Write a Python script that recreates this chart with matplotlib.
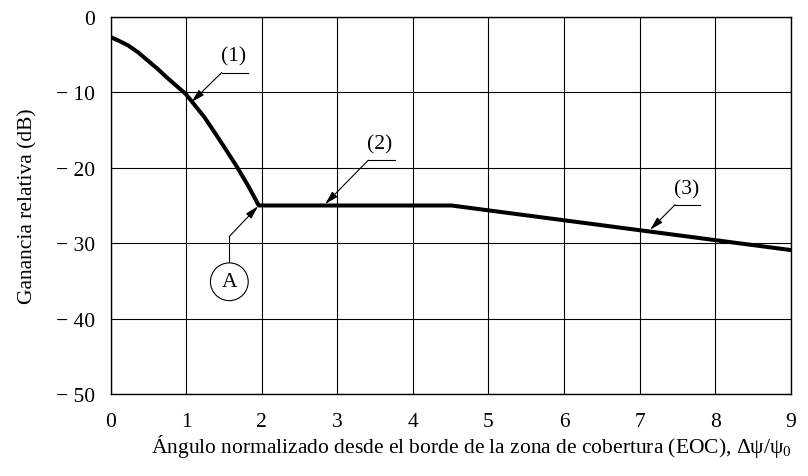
import matplotlib.pyplot as plt
from matplotlib.patches import Ellipse

plt.rcParams['font.family'] = ['Liberation Serif', 'DejaVu Serif']
plt.rcParams['mathtext.fontset'] = 'custom'
plt.rcParams['mathtext.rm'] = 'Liberation Serif'

# curve
x_main = [0.0, 0.11, 0.23, 0.36, 0.49, 0.62, 0.76, 0.99, 1.24, 1.46, 1.66, 1.82, 1.96]
g_main = [-2.7, -3.2, -3.8, -4.7, -5.8, -6.9, -8.2, -10.2, -13.3, -16.6, -19.7, -22.4, -25.0]
x_flat = [1.96, 4.51]
g_flat = [-25.0, -25.0]
x_tail = [4.51, 9.0]
g_tail = [-25.0, -30.9]

xticks = list(range(10))
yticks = [-50, -40, -30, -20, -10, 0]
ytick_labels = ["\u2212 50", "\u2212 40", "\u2212 30", "\u2212 20", "\u2212 10", "0"]

FS = 15.5

fig = plt.figure(figsize=(8.08, 4.77), dpi=100)
ax = fig.add_axes([0.137, 0.1713, 0.8416, 0.7916])

x_all = x_main + x_flat[1:] + x_tail[1:]
g_all = g_main + g_flat[1:] + g_tail[1:]
ax.plot(x_all, g_all, color="black", lw=2.9, solid_joinstyle="round", zorder=3)

ax.set_xlim(0, 9)
ax.set_ylim(-50, 0)
ax.set_xticks(xticks)
ax.set_yticks(yticks)
ax.set_yticklabels(ytick_labels)
ax.tick_params(length=0, labelsize=FS)
ax.tick_params(axis="y", pad=11)
ax.tick_params(axis="x", pad=13)
ax.grid(True, color="black", lw=0.8)
for s in ax.spines.values():
    s.set_linewidth(1.0)

ax.set_ylabel("Ganancia relativa (dB)", fontsize=FS)
ax.yaxis.set_label_coords(-0.108, 0.5)
ax.set_xlabel("\u00c1ngulo normalizado desde el borde de la zona de cobertura (EOC), "
              "\u0394\u03c8/\u03c8$_\\mathregular{0}$", fontsize=FS)
ax.xaxis.set_label_coords(0.53, -0.1)

arrow = dict(arrowstyle="-|>,head_length=0.8,head_width=0.22", color="black",
             lw=0.8, shrinkA=0, shrinkB=0)

# (label text pos, leader start, underline end, arrow tip)
notes = [
    ("(1)", (1.62, -5.2), (1.47, -7.4), 1.82, (1.07, -11.3)),
    ("(2)", (3.56, -16.9), (3.41, -19.0), 3.76, (2.84, -24.8)),
    ("(3)", (7.62, -22.8), (7.47, -24.9), 7.80, (7.14, -28.2)),
]
for txt, tpos, start, uend, tip in notes:
    ax.text(tpos[0], tpos[1], txt, fontsize=FS, ha="center", va="center")
    ax.plot([start[0], uend], [start[1], start[1]], color="black", lw=0.8)
    ax.annotate("", xy=tip, xytext=start, arrowprops=arrow)

# point A
ax.plot([1.57, 1.57], [-29.1, -32.6], color="black", lw=0.8)
ax.annotate("", xy=(1.95, -25.1), xytext=(1.57, -29.1), arrowprops=arrow)
ax.add_patch(Ellipse((1.57, -35.1), 0.50, 5.0, fc="white", ec="black", lw=0.8, zorder=4))
ax.text(1.57, -35.1, "A", fontsize=FS, ha="center", va="center", zorder=5)

fig.savefig("out.png", dpi=100)
